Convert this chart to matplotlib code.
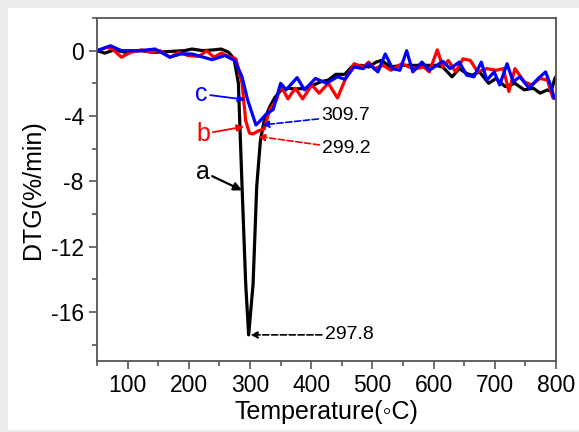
import matplotlib.pyplot as plt
from matplotlib.patches import Rectangle
from matplotlib.ticker import MultipleLocator

plt.rcParams['font.family'] = ['Liberation Sans', 'DejaVu Sans']
plt.rcParams['axes.unicode_minus'] = False

# curve a (black)
temp_a = [50, 63, 78, 96, 120, 145, 169, 193, 205, 223, 241, 253, 265, 274, 281,
          287, 293, 297.8, 305, 311, 317, 323, 332, 341, 350, 362, 374, 392, 404,
          416, 428, 440, 455, 467, 482, 494, 506, 515, 530, 548, 566, 584, 603,
          615, 630, 642, 654, 663, 675, 690, 702, 717, 733, 748, 763, 774, 786,
          792, 798, 800]
dtg_a = [0, -0.15, 0.05, -0.1, 0, -0.1, -0.05, 0.0, 0.1, 0, 0.05, 0.1, -0.1, -0.5,
         -2.0, -8.3, -14.3, -17.4, -14.3, -8.3, -5.5, -4.3, -3.45, -2.85, -2.45,
         -2.3, -2.35, -2.3, -2.1, -1.9, -1.8, -1.45, -1.45, -0.95, -0.9, -1.0,
         -0.7, -0.6, -1.0, -0.9, -0.9, -0.9, -0.9, -1.0, -1.6, -1.1, -1.4, -1.5,
         -1.3, -2.0, -1.7, -2.2, -2.0, -2.4, -2.3, -2.6, -2.4, -2.5, -1.7, -1.6]

# curve b (red)
temp_b = [50, 66, 75, 90, 105, 123, 138, 153, 169, 184, 199, 217, 229, 241, 253,
          265, 277, 287, 293, 299.2, 305, 314, 323, 332, 344, 350, 362, 374, 386,
          401, 413, 428, 443, 455, 470, 485, 494, 503, 518, 530, 548, 560, 572,
          584, 593, 606, 615, 624, 636, 648, 660, 672, 687, 702, 714, 723, 733,
          748, 760, 774, 786, 795, 800]
dtg_b = [0, 0.2, 0.1, -0.4, -0.1, 0.05, -0.1, 0, -0.4, -0.1, -0.3, -0.35, 0, -0.4,
         -0.15, -0.35, -0.5, -2.0, -4.3, -5.05, -5.1, -4.9, -4.8, -3.65, -2.95,
         -2.1, -2.95, -2.3, -2.95, -2.1, -2.6, -2.0, -2.9, -1.8, -0.8, -1.0, -0.7,
         -1.1, -0.9, -1.2, -0.8, -1.0, -1.1, -1.0, -1.3, 0.05, -1.0, -0.6, -1.3,
         -0.5, -0.6, -1.3, -1.1, -1.2, -1.1, -2.5, -1.1, -1.9, -2.1, -1.7, -1.8,
         -2.9, -2.9]

# curve c (blue)
temp_c = [50, 72, 90, 120, 145, 169, 187, 205, 238, 259, 275, 287, 296, 309.7,
          314, 326, 338, 350, 359, 377, 389, 407, 425, 443, 455, 470, 485, 494,
          509, 521, 533, 545, 556, 566, 581, 593, 603, 615, 627, 642, 654, 666,
          678, 687, 699, 708, 720, 730, 741, 756, 771, 783, 792, 797]
dtg_c = [0, 0.3, 0, 0, 0.1, -0.4, -0.2, -0.2, -0.55, -0.3, -0.6, -1.6, -3.0, -4.55,
         -4.4, -3.9, -3.6, -2.0, -2.4, -1.65, -2.4, -1.7, -2.0, -1.6, -1.75, -1.0,
         -1.1, -0.8, -1.3, -0.2, -1.1, -1.2, 0, -1.3, -0.7, -1.2, -0.95, -0.65,
         -1.1, -0.7, -1.5, -1.6, -0.7, -1.8, -1.3, -2.1, -0.8, -1.9, -1.6, -2.3,
         -1.7, -1.3, -2.2, -2.9]

peak_a = (297.8, -17.4)
peak_b = (299.2, -5.1)
peak_c = (309.7, -4.55)

fig = plt.figure(figsize=(5.79, 4.32), dpi=100, facecolor='#ececec')
fig.patches.append(Rectangle((8 / 579, 2 / 432), 1, 1 - 10 / 432,
                             transform=fig.transFigure, facecolor='white',
                             edgecolor='none', zorder=-1))
ax = fig.add_axes([97 / 579, 1 - 361 / 432, 459 / 579, 343 / 432])

ax.plot(temp_a, dtg_a, color='black', lw=2.3)
ax.plot(temp_b, dtg_b, color='red', lw=2.3)
ax.plot(temp_c, dtg_c, color='blue', lw=2.3)

ax.set_xlim(50, 800)
ax.set_ylim(-19, 2)
ax.xaxis.set_major_locator(MultipleLocator(100))
ax.xaxis.set_minor_locator(MultipleLocator(50))
ax.yaxis.set_major_locator(MultipleLocator(4))
ax.yaxis.set_minor_locator(MultipleLocator(2))
ax.set_xticks(range(100, 801, 100))

for s in ax.spines.values():
    s.set_color('#555555')
    s.set_linewidth(1.3)
ax.tick_params(which='both', direction='out', color='#555555', width=1.2,
               labelsize=16.5, top=False, right=False)
ax.tick_params(which='major', length=6)
ax.tick_params(which='minor', length=3.5)

ax.set_xlabel('Temperature(\u25e6C)', fontsize=18, labelpad=2)
ax.set_ylabel('DTG(%/min)', fontsize=18, labelpad=4)

# labels a, b, c with solid arrows
ax.annotate('c', xy=(292, -3.0), xytext=(210, -2.65), fontsize=18, color='blue',
            va='center', arrowprops=dict(arrowstyle='-|>', color='blue', lw=1.3,
                                         shrinkA=0, shrinkB=0, mutation_scale=10))
ax.annotate('b', xy=(290, -4.65), xytext=(212, -5.1), fontsize=18, color='red',
            va='center', arrowprops=dict(arrowstyle='-|>', color='red', lw=1.3,
                                         shrinkA=0, shrinkB=0, mutation_scale=10))
ax.annotate('a', xy=(287, -8.55), xytext=(211, -7.4), fontsize=18, color='black',
            va='center', arrowprops=dict(arrowstyle='-|>', color='black', lw=1.6,
                                         shrinkA=0, shrinkB=0, mutation_scale=12))

# peak temperatures with dashed arrows
ax.annotate('309.7', xy=(peak_c[0] + 10, peak_c[1]), xytext=(416, -4.0),
            fontsize=14, va='center',
            arrowprops=dict(arrowstyle='-|>', color='blue', lw=1.2, ls='--',
                            shrinkA=0, shrinkB=0, mutation_scale=10))
ax.annotate('299.2', xy=(peak_b[0] + 14, peak_b[1] - 0.15), xytext=(418, -6.0),
            fontsize=14, va='center',
            arrowprops=dict(arrowstyle='-|>', color='red', lw=1.2, ls='--',
                            shrinkA=0, shrinkB=0, mutation_scale=10))
ax.annotate('297.8', xy=(peak_a[0] + 3, peak_a[1]), xytext=(422, -17.4),
            fontsize=14, va='center',
            arrowprops=dict(arrowstyle='-|>', color='black', lw=1.2, ls='--',
                            shrinkA=0, shrinkB=0, mutation_scale=10))

fig.savefig('out.png', dpi=100, facecolor=fig.get_facecolor())
